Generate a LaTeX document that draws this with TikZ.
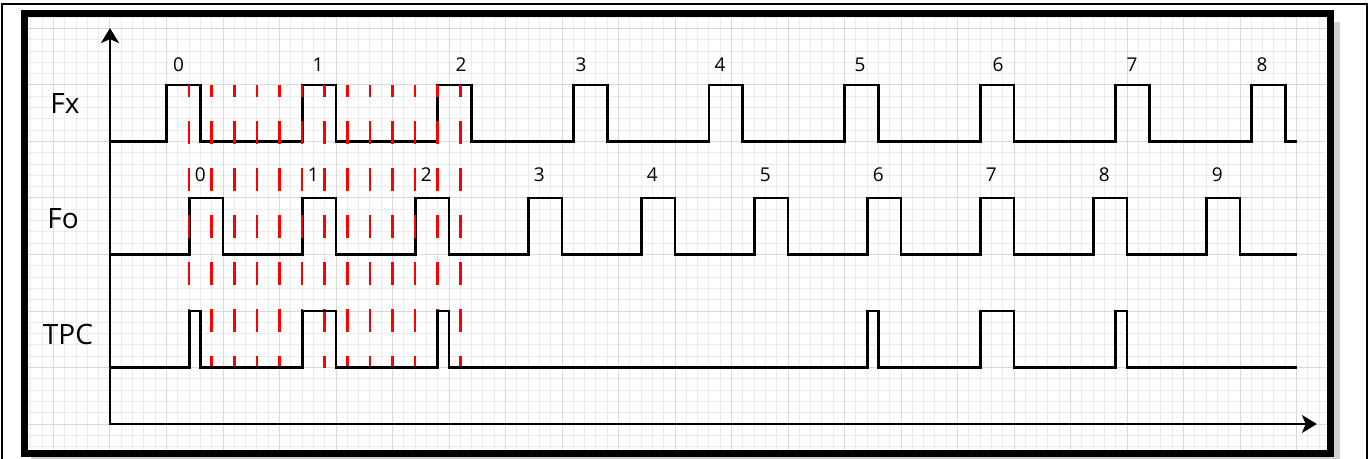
\documentclass[tikz,border=0pt]{standalone}
\usepackage{fontspec}
\setmainfont{Open Sans}
\usetikzlibrary{arrows.meta}
\definecolor{gridminor}{HTML}{ECECEC}
\definecolor{gridmajor}{HTML}{DADADA}
\definecolor{tickred}{HTML}{FF0000}
\tikzset{
    signal/.style = {line width=2.8pt, black, line join=miter},
    clocktick/.style = {line width=2.6pt, tickred, dash pattern=on 23pt off 24pt, dash phase=11pt},
    axis/.style = {line width=2.5pt, line join=miter, {Stealth[length=15pt,width=18pt,inset=4pt]}-{Stealth[length=15pt,width=18pt,inset=4pt]}},
    signame/.style = {font=\fontsize{28}{32}\selectfont, inner sep=0pt},
    pulsenum/.style = {font=\fontsize{19}{22}\selectfont, inner sep=0pt},
}

\begin{document}
\begin{tikzpicture}[x=11.3pt, y=11.3pt]
    \useasboundingbox (-9.7345,-3.0088) rectangle (111.593,37.522);
    \coordinate (frameSW) at (-7.566,-2.611);
    \coordinate (frameNE) at (108.009,36.327);

    % Draw grid.
    \begin{scope}
        \clip (frameSW) rectangle (frameNE);
        \foreach \X in {-7,...,108}
            \draw[gridminor, line width=1pt] (\X,-3) -- (\X,37);
        \foreach \Y in {-2,...,36}
            \draw[gridminor, line width=1pt] (-8,\Y) -- (109,\Y);
        \foreach \X in {-5,0,...,105}
            \draw[gridmajor, line width=1pt] (\X,-3) -- (\X,37);
        \foreach \Y in {0,5,...,35}
            \draw[gridmajor, line width=1pt] (-8,\Y) -- (109,\Y);
    \end{scope}

    % Draw frames.
    \draw[line width=2pt] (-9.558,-5) rectangle (111.24,37.168);
    \draw[black!30, line width=8pt, opacity=0.6]
        (108.5,35.6) -- (108.5,-3.1) -- (-7,-3.1);
    \draw[line width=7.5pt] (frameSW) rectangle (frameNE);

    % Draw axes.
    \coordinate (origin) at (0,0);
    \coordinate (ytip) at (0,35.04);
    \coordinate (xtip) at (106.8,0);
    \draw[axis] (ytip) -- (origin) -- (xtip);

    % Draw Fx pulses.
    \draw[signal] (0,25)
        \foreach \k in {0,...,8} {
            -- ({5+12*\k},25) -- ({5+12*\k},30) -- ({8+12*\k},30) -- ({8+12*\k},25)
        } -- (105,25);

    % Draw Fo pulses.
    \draw[signal] (0,15)
        \foreach \k in {0,...,9} {
            -- ({7+10*\k},15) -- ({7+10*\k},20) -- ({10+10*\k},20) -- ({10+10*\k},15)
        } -- (105,15);

    % Draw sampling ticks.
    \foreach \X in {7,9,...,31}
        \draw[clocktick] (\X,30) -- (\X,5);

    % Draw TPC pulses (Fx and Fo both high).
    \draw[signal] (0,5)
        \foreach \a/\b in {7/8,17/20,29/30,67/68,77/80,89/90} {
            -- (\a,5) -- (\a,10) -- (\b,10) -- (\b,5)
        } -- (105,5);

    % Signal names.
    \node[signame] (fx) at (-3.98,28.32) {Fx};
    \node[signame] (fo) at (-4.16,18.14) {Fo};
    \node[signame] (tpc) at (-3.72,7.92) {TPC};

    % Pulse numbers.
    \foreach \k/\X in {0/6.06,1/18.41,2/31.06,3/41.68,4/53.98,5/66.37,6/78.58,7/90.44,8/101.95}
        \node[pulsenum] (fxnum\k) at (\X,31.77) {\k};
    \foreach \k in {0,...,9}
        \node[pulsenum] (fonum\k) at ({8+10*\k},22.08) {\k};
\end{tikzpicture}
\end{document}
